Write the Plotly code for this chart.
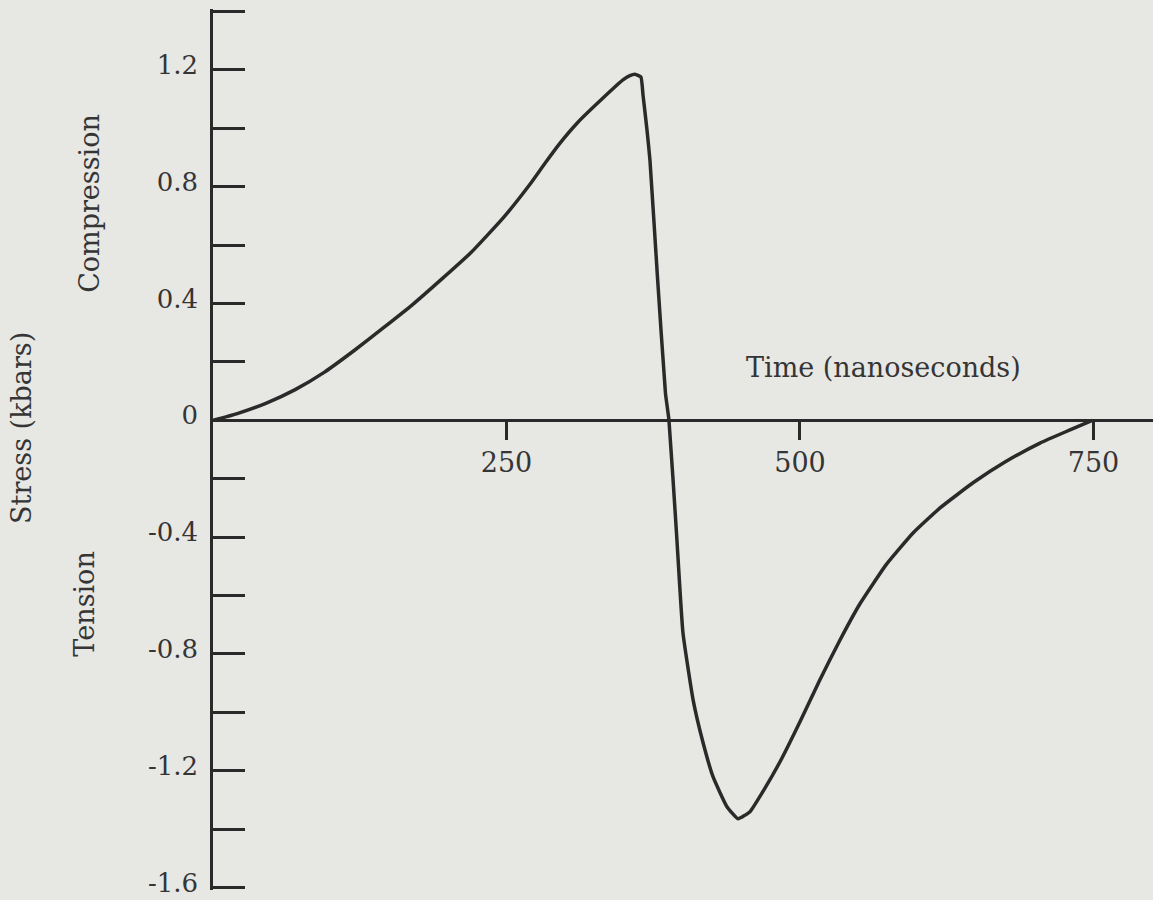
import plotly.graph_objects as go

# ---- data ----
time_ns = [0, 20, 45, 70, 95, 120, 145, 170, 195, 220, 247, 270, 282.8,
           295.6, 310.1, 332.2, 349.2, 355.1, 359.4, 364.5, 366.3, 369.7,
           372.2, 378.6, 385.4, 388.4, 394.8, 400.3, 408.9, 417.4, 425.9,
           437.8, 447.2, 457.4, 469.3, 483.0, 500.0, 517.0, 534.1, 551.1,
           573.3, 596.3, 619.3, 647.4, 674.6, 704.4, 730.0, 749]
stress_kbar = [0, 0.022, 0.058, 0.105, 0.165, 0.238, 0.316, 0.396, 0.484,
               0.575, 0.692, 0.808, 0.880, 0.949, 1.017, 1.103, 1.165, 1.180,
               1.185, 1.175, 1.113, 0.993, 0.891, 0.490, 0.093, 0.0, -0.385,
               -0.727, -0.956, -1.103, -1.220, -1.323, -1.364, -1.340, -1.265,
               -1.169, -1.032, -0.888, -0.752, -0.628, -0.495, -0.386, -0.300,
               -0.214, -0.143, -0.078, -0.033, 0.0]

y_tickvals = [-1.6, -1.4, -1.2, -1.0, -0.8, -0.6, -0.4, -0.2, 0.0,
              0.2, 0.4, 0.6, 0.8, 1.0, 1.2, 1.4]
y_ticktext = ["-1.6", "", "-1.2", "", "-0.8", "", "-0.4", "", "0",
              "", "0.4", "", "0.8", "", "1.2", ""]
x_tickvals = [250, 500, 750]
x_ticktext = ["250", "500", "750"]

INK = "#2a2a2a"
TXT = "#353535"
BG = "#e7e7e4"
FONT = "DejaVu Serif"
FS = 27

fig = go.Figure()
fig.add_trace(go.Scatter(
    x=time_ns, y=stress_kbar, mode="lines",
    line=dict(color=INK, width=3.5, shape="spline", smoothing=0.4),
    hoverinfo="skip", showlegend=False, cliponaxis=False,
))

Y_LO, Y_HI = -1.608, 1.408
ZERO_POS = (0 - Y_LO) / (Y_HI - Y_LO)

fig.update_layout(
    width=1153, height=900,
    margin=dict(l=213, r=0, t=9, b=10, pad=0, autoexpand=False),
    paper_bgcolor=BG, plot_bgcolor=BG,
    font=dict(family=FONT, size=FS, color=TXT),
    showlegend=False,
    xaxis=dict(
        range=[0, 800.7], anchor="free", position=ZERO_POS,
        showline=True, linecolor=INK, linewidth=2.5,
        ticks="outside", ticklen=18, tickwidth=2.5, tickcolor=INK,
        tickvals=x_tickvals, ticktext=x_ticktext,
        showgrid=False, zeroline=False, automargin=False,
        tickfont=dict(family=FONT, size=FS, color=TXT),
    ),
    xaxis2=dict(
        range=[0, 800.7], overlaying="x", matches="x", anchor="free",
        position=ZERO_POS, showline=False,
        ticks="inside", ticklen=18, tickwidth=2.5, tickcolor=INK,
        tickvals=x_tickvals, showticklabels=False,
        showgrid=False, zeroline=False, automargin=False,
    ),
    yaxis=dict(
        range=[Y_LO, Y_HI],
        showline=True, linecolor=INK, linewidth=2.5,
        ticks="inside", ticklen=32, tickwidth=2.5, tickcolor=INK,
        tickvals=y_tickvals, ticktext=y_ticktext,
        ticklabelstandoff=7, ticklabelshift=-5, ticklabeloverflow="allow",
        showgrid=False, zeroline=False, automargin=False,
        tickfont=dict(family=FONT, size=26, color=TXT),
    ),
    annotations=[
        dict(text="Time (nanoseconds)", x=0.7138, y=0.5929,
             xref="paper", yref="paper", xanchor="center", yanchor="middle",
             showarrow=False, font=dict(family=FONT, size=FS, color=TXT)),
        dict(text="Compression", x=-0.1309, y=0.7799,
             xref="paper", yref="paper", xanchor="center", yanchor="middle",
             textangle=-90, showarrow=False,
             font=dict(family=FONT, size=FS, color=TXT)),
        dict(text="Stress (kbars)", x=-0.2032, y=0.5245,
             xref="paper", yref="paper", xanchor="center", yanchor="middle",
             textangle=-90, showarrow=False,
             font=dict(family=FONT, size=FS, color=TXT)),
        dict(text="Tension", x=-0.1362, y=0.3250,
             xref="paper", yref="paper", xanchor="center", yanchor="middle",
             textangle=-90, showarrow=False,
             font=dict(family=FONT, size=FS, color=TXT)),
    ],
)

fig.write_html(
    "out.html",
    config={"displayModeBar": False},
    post_script="document.body.style.margin='0';"
                "document.body.style.background='#e7e7e4';",
)
